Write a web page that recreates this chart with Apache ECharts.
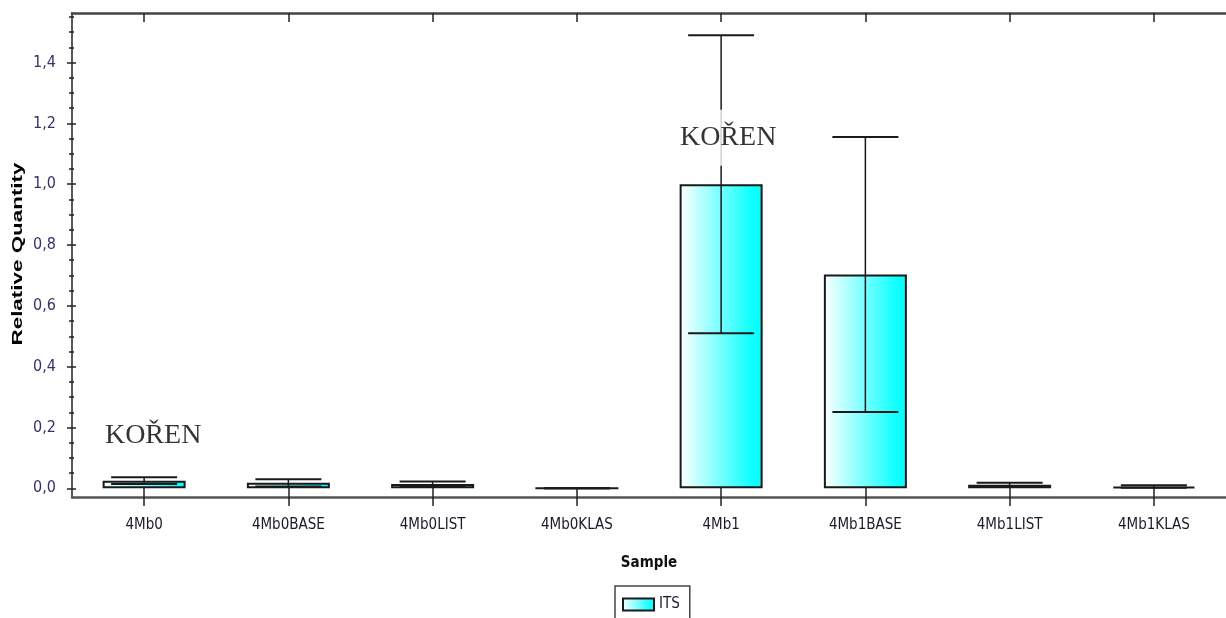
<!DOCTYPE html>
<html>
<head>
<meta charset="utf-8">
<script src="https://cdn.jsdelivr.net/npm/echarts@6/dist/echarts.min.js"></script>
<style>
html,body{margin:0;padding:0;background:#fff;}
#chart{width:1226px;height:618px;}
</style>
</head>
<body>
<div id="chart"></div>
<script>
// ---- data ----
const categories = ['4Mb0', '4Mb0BASE', '4Mb0LIST', '4Mb0KLAS', '4Mb1', '4Mb1BASE', '4Mb1LIST', '4Mb1KLAS'];
const itsValues  = [0.025, 0.018, 0.014, 0.0, 1.0, 0.703, 0.012, 0.006];
const itsErrors  = [0.011, 0.012, 0.008, 0.0, 0.49, 0.452, 0.006, 0.004];
const yMajorTicks = [0.0, 0.2, 0.4, 0.6, 0.8, 1.0, 1.2, 1.4];
const yMinorTicks = [0.05, 0.10, 0.15, 0.25, 0.30, 0.35, 0.45, 0.50, 0.55, 0.65, 0.70, 0.75,
                     0.85, 0.90, 0.95, 1.05, 1.10, 1.15, 1.25, 1.30, 1.35, 1.45, 1.50, 1.55];
const noteCategories = ['4Mb1', '4Mb0'];
const noteValues = [1.153, 0.172];
const noteTexts = ['KOŘEN', 'KOŘEN'];
const yMin = -0.0286, yMax = 1.563;
const seriesName = 'ITS';
const xTitle = 'Sample';
const yTitle = 'Relative Quantity';

// ---- chart ----
const narrow = "'DejaVu Sans Condensed', 'Liberation Sans', Arial, sans-serif";
const chart = echarts.init(document.getElementById('chart'), null, {renderer: 'canvas'});
const barFill = new echarts.graphic.LinearGradient(0, 0, 1, 0, [
  {offset: 0, color: '#ffffff'},
  {offset: 0.85, color: '#14ffff'},
  {offset: 1, color: '#00ffff'}
]);
const fmt = v => v.toFixed(1).replace('.', ',');

function yAxisBase(extra) {
  return Object.assign({
    type: 'value', position: 'left', min: yMin, max: yMax,
    splitLine: {show: false}, axisLine: {show: false, onZero: false},
    axisLabel: {show: false}, axisTick: {show: false}
  }, extra);
}
function tickAxis(values, inside, length, width) {
  return yAxisBase({
    axisTick: {show: true, inside: inside, length: length, customValues: values,
               lineStyle: {color: '#222', width: width}}
  });
}

const option = {
  animation: false,
  backgroundColor: '#ffffff',
  grid: {left: 72, top: 13, width: 1162, height: 484, containLabel: false},
  xAxis: [
    {
      type: 'category', position: 'bottom', data: categories,
      axisLine: {show: true, onZero: false, lineStyle: {color: '#555', width: 2.5}},
      axisTick: {show: true, alignWithLabel: true, inside: false, length: 9,
                 lineStyle: {color: '#222', width: 1.5}},
      axisLabel: {show: true, margin: 21, fontFamily: narrow, fontSize: 15, color: '#1a1a2a'},
      splitLine: {show: false},
      name: xTitle, nameLocation: 'middle', nameGap: 59,
      nameTextStyle: {fontFamily: narrow, fontSize: 15, fontWeight: 'bold', color: '#111'}
    },
    {
      type: 'category', position: 'bottom', data: categories,
      axisLine: {show: false, onZero: false},
      axisTick: {show: true, alignWithLabel: true, inside: true, length: 9,
                 lineStyle: {color: '#222', width: 1.5}},
      axisLabel: {show: false}, splitLine: {show: false}
    },
    {
      type: 'category', position: 'top', data: categories,
      axisLine: {show: true, onZero: false, lineStyle: {color: '#444', width: 2.5}},
      axisTick: {show: true, alignWithLabel: true, inside: true, length: 9,
                 lineStyle: {color: '#222', width: 1.5}},
      axisLabel: {show: false}, splitLine: {show: false}
    }
  ],
  yAxis: [
    yAxisBase({
      axisLine: {show: true, onZero: false, lineStyle: {color: '#222', width: 1.5}},
      axisTick: {show: true, inside: false, length: 5, customValues: yMajorTicks,
                 lineStyle: {color: '#222', width: 1.5}},
      axisLabel: {show: true, customValues: yMajorTicks, formatter: fmt, margin: 16,
                  fontFamily: narrow, fontSize: 16, color: '#33336a'}
    }),
    tickAxis(yMajorTicks, true, 4, 1.5),
    tickAxis(yMinorTicks, false, 3, 1.5),
    tickAxis(yMinorTicks, true, 2, 1.5)
  ],
  legend: {
    show: true, data: [seriesName], left: 615, top: 586, orient: 'horizontal',
    itemWidth: 31, itemHeight: 12, icon: 'rect',
    borderColor: '#444', borderWidth: 1.5, padding: [11, 10, 12, 7],
    textStyle: {fontFamily: narrow, fontSize: 15, color: '#1a1a2a'},
    selectedMode: false
  },
  graphic: [{
    type: 'text', x: 18, y: 254, rotation: Math.PI / 2, scaleX: 1.6, z: 10,
    style: {text: yTitle, font: "bold 14px 'Liberation Sans', Arial, sans-serif",
            fill: '#000', align: 'center', verticalAlign: 'middle',
            textAlign: 'center', textVerticalAlign: 'middle'}
  }],
  series: [
    {
      name: seriesName, type: 'bar', xAxisIndex: 0, yAxisIndex: 0,
      data: itsValues, barWidth: 83, z: 2,
      itemStyle: {color: barFill, borderColor: '#1a1a1a', borderWidth: 2}
    },
    {
      name: 'error', type: 'custom', xAxisIndex: 0, yAxisIndex: 0, z: 3,
      data: itsValues.map((v, i) => [i, v, itsErrors[i]]),
      encode: {x: 0, y: 1},
      renderItem: function (params, api) {
        const i = api.value(0), v = api.value(1), e = api.value(2);
        const top = api.coord([i, v + e]);
        const bot = api.coord([i, v - e]);
        const half = 33;
        const st = {stroke: '#1a1a1a', lineWidth: 1.5};
        const cap = {stroke: '#1a1a1a', lineWidth: 2};
        return {
          type: 'group', children: [
            {type: 'line', shape: {x1: top[0], y1: top[1], x2: bot[0], y2: bot[1]}, style: st},
            {type: 'line', shape: {x1: top[0] - half, y1: top[1], x2: top[0] + half, y2: top[1]}, style: cap},
            {type: 'line', shape: {x1: bot[0] - half, y1: bot[1], x2: bot[0] + half, y2: bot[1]}, style: cap}
          ]
        };
      }
    },
    {
      name: 'note', type: 'scatter', xAxisIndex: 0, yAxisIndex: 0, z: 5,
      symbolSize: 1, itemStyle: {color: 'rgba(0,0,0,0)'},
      data: noteCategories.map((c, i) => ({
        value: [c, noteValues[i]],
        label: {offset: [i === 0 ? 7 : 9, 0]}
      })),
      label: {
        show: true, position: 'inside',
        formatter: p => noteTexts[p.dataIndex],
        fontFamily: "'Liberation Serif', 'Times New Roman', serif", fontSize: 28,
        color: '#000', backgroundColor: '#ffffff', padding: [14, 2]
      },
      emphasis: {disabled: true}, silent: true
    }
  ]
};
chart.setOption(option);
</script>
</body>
</html>
